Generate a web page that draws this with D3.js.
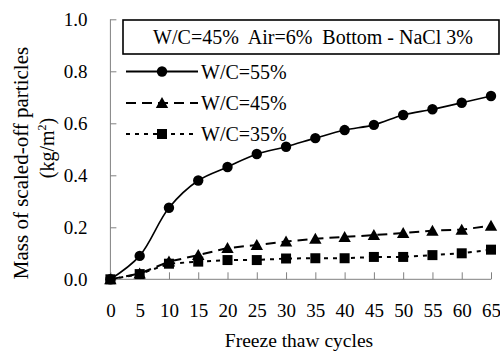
<!DOCTYPE html>
<html>
<head>
<meta charset="utf-8">
<script src="https://cdn.jsdelivr.net/npm/d3@7/dist/d3.min.js"></script>
<style>
  html, body { margin: 0; padding: 0; background: #fff; }
  svg { display: block; }
</style>
</head>
<body>
<script>
// Freeze-thaw cycle counts and scaled-off mass (kg/m²) per mix
const cycles = [0, 5, 10, 15, 20, 25, 30, 35, 40, 45, 50, 55, 60, 65];
const wc55 = [0, 0.09, 0.275, 0.38, 0.432, 0.482, 0.51, 0.543, 0.574, 0.594, 0.632, 0.654, 0.679, 0.705];
const wc45 = [0, 0.022, 0.068, 0.093, 0.12, 0.132, 0.145, 0.156, 0.163, 0.17, 0.178, 0.187, 0.191, 0.206];
const wc35 = [0, 0.02, 0.06, 0.068, 0.074, 0.074, 0.08, 0.081, 0.081, 0.086, 0.086, 0.093, 0.1, 0.114];
const seriesNames = ["W/C=55%", "W/C=45%", "W/C=35%"];
const yTicks = [0, 0.2, 0.4, 0.6, 0.8, 1.0];
const xTicks = cycles;
const titleText = "W/C=45%  Air=6%  Bottom - NaCl 3%";
const xTitle = "Freeze thaw cycles";
const yTitle = "Mass of scaled-off particles";

const W = 500, H = 356;
const FONT = '"Liberation Serif"';
const svg = d3.select("body").append("svg").attr("width", W).attr("height", H);

function txt(sel, size) {
  return sel.attr("font-family", null).style("font-family", FONT)
    .style("font-size", size + "px").attr("fill", "#000");
}

const x = d3.scaleLinear().domain([0, 65]).range([110.4, 491]);
const y = d3.scaleLinear().domain([0, 1]).range([279.3, 19.3]);

const axisColor = "#808080";

// Y axis: ticks point into the plot
const yAxis = svg.append("g").attr("transform", `translate(${x(0)},0)`)
  .call(d3.axisLeft(y).tickValues(yTicks).tickSize(-6).tickPadding(23).tickFormat(d3.format(".1f")));
yAxis.attr("font-family", null).attr("font-size", null);
yAxis.select(".domain").attr("stroke", axisColor).attr("d", `M0,${y(1)}V${y(0)}`);
yAxis.selectAll(".tick line").attr("stroke", axisColor);
txt(yAxis.selectAll(".tick text"), 19);

// X axis: ticks point up into the plot
const xAxis = svg.append("g").attr("transform", `translate(0,${y(0)})`)
  .call(d3.axisBottom(x).tickValues(xTicks).tickSize(-7).tickPadding(24).tickFormat(d3.format("d")));
xAxis.attr("font-family", null).attr("font-size", null);
xAxis.select(".domain").attr("stroke", axisColor).attr("d", `M${x(0)},0H${x(65)}`);
xAxis.selectAll(".tick line").attr("stroke", axisColor);
txt(xAxis.selectAll(".tick text"), 19);

// Axis titles
txt(svg.append("text").attr("x", 299).attr("y", 347).attr("text-anchor", "middle"), 19.5).text(xTitle);
txt(svg.append("text").attr("transform", "translate(28,163) rotate(-90)").attr("text-anchor", "middle"), 21).text(yTitle);
const unit = txt(svg.append("text").attr("transform", "translate(54,148) rotate(-90)").attr("text-anchor", "middle"), 20);
unit.append("tspan").text("(kg/m");
unit.append("tspan").style("font-size", "12px").attr("dy", -8).text("2");
unit.append("tspan").attr("dy", 8).text(")");

// Marker shapes
const triPath = "M0,-6L6.2,5L-6.2,5Z";
const sqPath = d3.symbol().type(d3.symbolSquare).size(100)();
function marker(g, kind) {
  if (kind === 0) g.append("circle").attr("r", 5.2).attr("fill", "#000");
  else if (kind === 1) g.append("path").attr("d", triPath).attr("fill", "#000");
  else g.append("path").attr("d", sqPath).attr("fill", "#000");
}

const series = [
  { name: seriesNames[0], values: wc55, dash: null, curve: d3.curveCatmullRom, width: 1.6 },
  { name: seriesNames[1], values: wc45, dash: "10,6", curve: d3.curveLinear, width: 2 },
  { name: seriesNames[2], values: wc35, dash: "4,5", curve: d3.curveLinear, width: 2 }
];

series.forEach((s, i) => {
  const line = d3.line().x((d, j) => x(cycles[j])).y(d => y(d)).curve(s.curve);
  svg.append("path").datum(s.values).attr("d", line)
    .attr("fill", "none").attr("stroke", "#000").attr("stroke-width", s.width)
    .attr("stroke-dasharray", s.dash);
  s.values.forEach((v, j) => {
    const g = svg.append("g").attr("transform", `translate(${x(cycles[j])},${y(v)})`);
    marker(g, i);
  });
});

// Title box
svg.append("rect").attr("x", 123).attr("y", 20).attr("width", 376).attr("height", 34)
  .attr("fill", "#fff").attr("stroke", "#000").attr("stroke-width", 1.6);
txt(svg.append("text").attr("x", 313).attr("y", 44).attr("text-anchor", "middle")
  .style("white-space", "pre"), 20).text(titleText);

// Legend
const legY = [71.5, 103, 134];
series.forEach((s, i) => {
  svg.append("line").attr("x1", 126).attr("x2", 198).attr("y1", legY[i]).attr("y2", legY[i])
    .attr("stroke", "#000").attr("stroke-width", 2).attr("stroke-dasharray", s.dash);
  const g = svg.append("g").attr("transform", `translate(162,${legY[i]})`);
  marker(g, i);
  txt(svg.append("text").attr("x", 201).attr("y", legY[i] + 7), 20).text(s.name);
});
</script>
</body>
</html>
